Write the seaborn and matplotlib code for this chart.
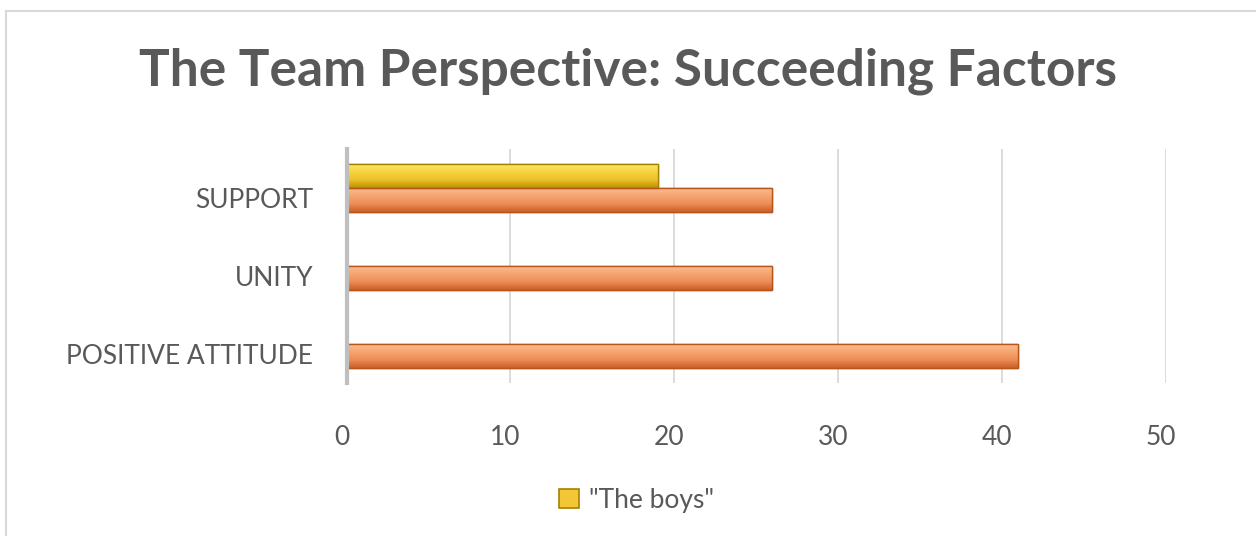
import matplotlib
matplotlib.use("Agg")
import matplotlib.pyplot as plt
import matplotlib.transforms as mtransforms
from matplotlib.colors import LinearSegmentedColormap
import seaborn as sns
import pandas as pd
import numpy as np
from matplotlib.patches import Rectangle

categories = ["SUPPORT", "UNITY", "POSITIVE ATTITUDE"]
series_names = ['"The boys"', "Others"]
boys_values = [19, 0, 0]
other_values = [26, 26, 41]
x_ticks = [0, 10, 20, 30, 40, 50]

rows = []
for c, b, o in zip(categories, boys_values, other_values):
    rows.append({"factor": c, "series": series_names[0], "value": b})
    rows.append({"factor": c, "series": series_names[1], "value": o})
df = pd.DataFrame(rows)

sns.set_theme(style="white")
plt.rcParams["font.family"] = ["Lato", "DejaVu Sans"]
text_gray = "#595959"

fig = plt.figure(figsize=(12.56, 5.36), dpi=100)
ax = fig.add_axes([0.276, 0.285, 0.652, 0.437])

palette = {series_names[0]: "#F2C634", series_names[1]: "#F39A63"}
edges = {series_names[0]: "#A88000", series_names[1]: "#B8561A"}
gradients = {
    series_names[0]: ["#FFE872", "#F7D441", "#EDC22C", "#B89200"],
    series_names[1]: ["#F9BE96", "#F6A672", "#EE8D55", "#C9602A"],
}
sns.barplot(data=df, y="factor", x="value", hue="series", order=categories,
            hue_order=series_names, palette=palette, width=0.62, orient="h",
            ax=ax, saturation=1, legend=False)

ax.set_xlim(0, 50)
ax.set_ylim(2.5, -0.5)
for cont, name in zip(ax.containers, series_names):
    cmap = LinearSegmentedColormap.from_list(name, gradients[name])
    grad = np.linspace(0, 1, 64).reshape(-1, 1)
    for bar in cont:
        bar.set_edgecolor(edges[name])
        bar.set_linewidth(1.0)
        if bar.get_width() == 0:
            bar.set_visible(False)
            continue
        x0, y0 = bar.get_x(), bar.get_y()
        w, h = bar.get_width(), bar.get_height()
        im = ax.imshow(grad, cmap=cmap, aspect="auto", origin="upper",
                       extent=(x0, x0 + w, y0 + h, y0), zorder=bar.get_zorder() + 0.1,
                       interpolation="bicubic")
        im.set_clip_path(bar)
        outline = Rectangle((x0, y0), w, h, fill=False, edgecolor=edges[name],
                            linewidth=1.0, zorder=bar.get_zorder() + 0.2)
        ax.add_patch(outline)
ax.set_xlim(0, 50)
ax.set_ylim(2.5, -0.5)
ax.set_aspect("auto")

ax.set_xticks(x_ticks)
ax.set_xticklabels([str(t) for t in x_ticks])
ax.xaxis.grid(True, color="#D9D9D9", linewidth=1.3)
ax.set_axisbelow(True)
for s in ["top", "right", "bottom"]:
    ax.spines[s].set_visible(False)
ax.spines["left"].set_color("#BFBFBF")
ax.spines["left"].set_linewidth(3)
ax.set_xlabel("")
ax.set_ylabel("")
ax.tick_params(axis="x", labelsize=19, colors=text_gray, pad=30, length=0)
ax.tick_params(axis="y", labelsize=19, colors=text_gray, pad=24, length=0)

dx = mtransforms.ScaledTranslation(-5 / 100, 0, fig.dpi_scale_trans)
for lab in ax.get_xticklabels():
    lab.set_transform(lab.get_transform() + dx)
dy = mtransforms.ScaledTranslation(0, -10 / 100, fig.dpi_scale_trans)
for lab in ax.get_yticklabels():
    lab.set_transform(lab.get_transform() + dy)

fig.text(0.5, 0.868, "The Team Perspective: Succeeding Factors", ha="center",
         va="center", fontsize=37, fontweight="bold", color=text_gray)

handle = Rectangle((0, 0), 1, 1, facecolor=palette[series_names[0]],
                   edgecolor=edges[series_names[0]], linewidth=1.2)
fig.legend([handle], [series_names[0]], loc="center", bbox_to_anchor=(0.507, 0.067),
           frameon=False, fontsize=19, labelcolor=text_gray, handlelength=0.75,
           handleheight=0.75, handletextpad=0.4)

fig.patches.append(Rectangle((6 / 1256, -0.05), 1.2, 1 - 11 / 536 + 0.05,
                             transform=fig.transFigure, fill=False,
                             edgecolor="#D9D9D9", linewidth=1.5))

fig.savefig("out.png", dpi=100, facecolor="white")
